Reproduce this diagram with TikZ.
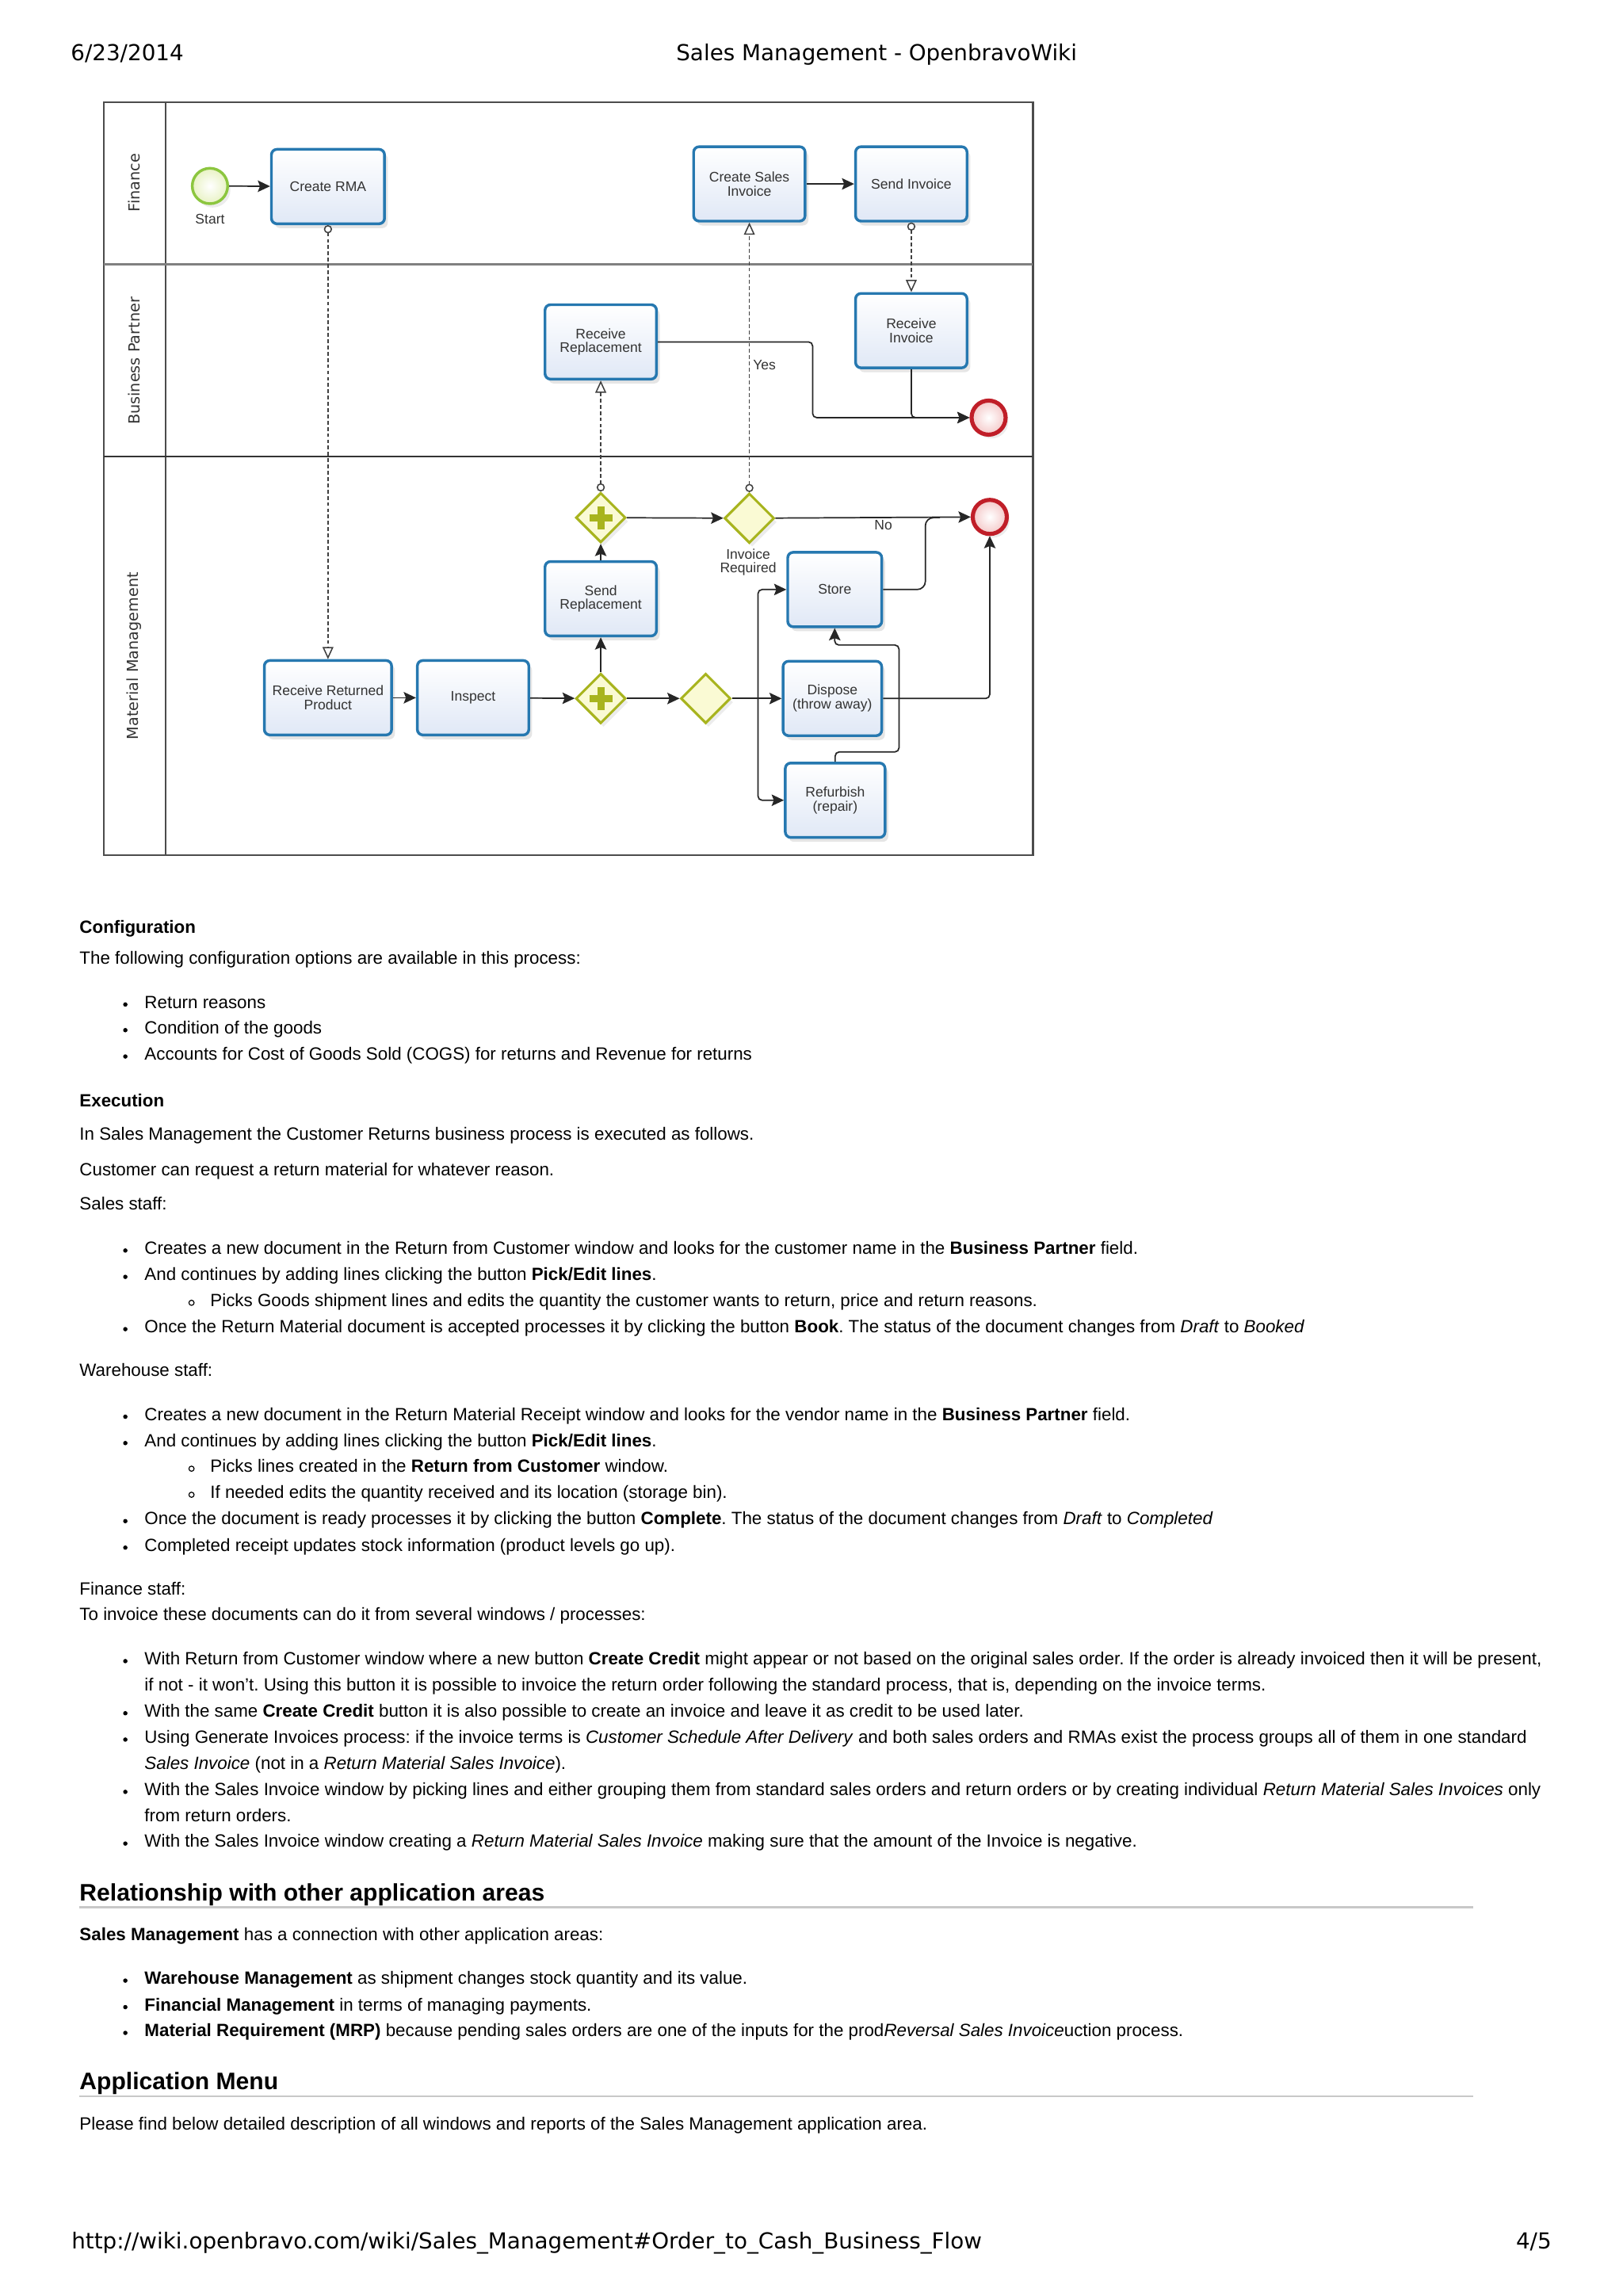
\documentclass[tikz,border=0pt]{standalone}
\usepackage{fontspec}
\setmainfont{Liberation Sans}
\newfontfamily\pagefont{DejaVu Sans}
\usetikzlibrary{shapes.geometric,arrows.meta,shadows,positioning}
\frenchspacing

\definecolor{taskblue}{RGB}{38,120,176}
\definecolor{taskfill}{RGB}{224,232,246}
\definecolor{gateolive}{RGB}{168,180,30}
\definecolor{gatefill}{RGB}{250,250,212}
\definecolor{startgreen}{RGB}{140,198,63}
\definecolor{startfill}{RGB}{232,242,196}
\definecolor{endred}{RGB}{192,30,40}
\definecolor{endfill}{RGB}{244,200,200}
\definecolor{rulegray}{RGB}{200,200,200}

\newcommand{\bodyfont}{\fontsize{6.5}{7.8}\selectfont}
\newcommand{\headfont}{\fontsize{8.75}{10}\selectfont\bfseries}
\newcommand{\taskfont}{\fontsize{5.1}{5.15}\selectfont}
\newcommand{\lanefont}{\pagefont\fontsize{5.6}{6}\selectfont}
\newcommand{\edgefont}{\pagefont\fontsize{8.08}{9}\selectfont}

\begin{document}
\begin{tikzpicture}[
    x=0.5373pt, y=-0.5373pt,
    every node/.style={inner sep=0pt},
    task/.style={rectangle, rounded corners=2pt, draw=taskblue, line width=1pt,
        top color=white, bottom color=taskfill, minimum width=40.9pt, minimum height=27.3pt,
        inner sep=1pt, align=center, font=\taskfont, text=black!80,
        drop shadow={opacity=0.2, shadow xshift=1.2pt, shadow yshift=-1.6pt}},
    gate/.style={diamond, draw=gateolive, line width=0.9pt, fill=gatefill,
        minimum width=18.3pt, minimum height=18.3pt,
        drop shadow={opacity=0.15, shadow xshift=1pt, shadow yshift=-1.4pt}},
    pgate/.style={gate, path picture={
        \draw[gateolive, line width=2.6pt] ([xshift=-4.2pt]path picture bounding box.center) -- ([xshift=4.2pt]path picture bounding box.center);
        \draw[gateolive, line width=2.6pt] ([yshift=-4.2pt]path picture bounding box.center) -- ([yshift=4.2pt]path picture bounding box.center);}},
    startev/.style={circle, draw=startgreen, line width=1pt, inner color=white, outer color=startfill,
        minimum size=13pt, drop shadow={opacity=0.15, shadow xshift=1pt, shadow yshift=-1.4pt}},
    endev/.style={circle, draw=endred, line width=1.5pt, inner color=white, outer color=endfill,
        minimum size=12.5pt, drop shadow={opacity=0.15, shadow xshift=1pt, shadow yshift=-1.4pt}},
    lbl/.style={font=\taskfont, text=black!80, align=center},
    lane/.style={font=\lanefont, text=black!80, rotate=90},
    flow/.style={draw=black!85, line width=0.5pt, rounded corners=1.5pt,
        -{Stealth[length=4.5pt, width=4.2pt, inset=0.8pt]}},
    flowline/.style={draw=black!85, line width=0.5pt, rounded corners=3pt},
    msg/.style={draw=black!75, line width=0.45pt, dash pattern=on 1.4pt off 0.9pt,
        {Circle[open, length=3pt, width=3pt, fill=white]}-{Triangle[open, length=4.5pt, width=4pt, fill=white]}},
    para/.style={anchor=base west, font=\bodyfont},
    head/.style={anchor=base west, font=\headfont},
    bul/.style={circle, fill=black, minimum size=1.6pt},
    subbul/.style={circle, draw=black, line width=0.35pt, minimum size=1.9pt}
]
\useasboundingbox[fill=white] (0,0) rectangle (1108,1568);

% page header and footer
\node[anchor=base west, font=\edgefont] (date) at (48,41.3) {6/23/2014};
\node[anchor=base west, font=\edgefont] (title) at (461.5,41.3) {Sales Management - OpenbravoWiki};
\node[anchor=base west, font=\edgefont] (url) at (48.5,1536) {http://wiki.openbravo.com/wiki/Sales\_Management\#Order\_to\_Cash\_Business\_Flow};
\node[anchor=base east, font=\edgefont] (pageno) at (1060,1536) {4/5};

% pool and lanes
\draw[black!70, line width=0.6pt] (71,70) rectangle (705.5,584);
\draw[black!70, line width=0.6pt] (113.2,70) -- (113.2,584);
\draw[black!50, line width=1.1pt] (71,180.5) -- (705.5,180.5);
\draw[black!80, line width=0.6pt] (71,311.6) -- (705.5,311.6);
\node[lane] (lanefin) at (91.5,124.8) {Finance};
\node[lane] (lanebp) at (91.5,246.5) {Business Partner};
\node[lane] (lanemm) at (91.5,448) {Material Management};

% Finance lane
\node[startev] (start) at (143.4,127) {};
\node[lbl] (startlbl) at (143.4,149.7) {Start};
\node[task, minimum width=41.5pt] (rma) at (224,127.4) {Create RMA};
\node[task] (csi) at (511.8,125.6) {Create Sales\\Invoice};
\node[task] (sinv) at (622.4,125.6) {Send Invoice};

% Business Partner lane
\node[task] (rrep) at (410.3,233.5) {Receive\\Replacement};
\node[task] (rinv) at (622.4,225.8) {Receive\\Invoice};
\node[endev] (endbp) at (675.2,285.2) {};

% Material Management lane
\node[pgate] (pgtop) at (410.3,353.5) {};
\node[gate] (xgtop) at (511.8,353.9) {};
\node[lbl] (invreq) at (511,384) {Invoice\\Required};
\node[endev] (endmm) at (676,353) {};
\node[task] (srep) at (410.3,408.9) {Send\\Replacement};
\node[task, minimum width=46.7pt] (rrp) at (224,476.5) {Receive Returned\\Product};
\node[task] (insp) at (323.1,476.5) {Inspect};
\node[pgate] (pgbot) at (410.3,477) {};
\node[gate] (xgbot) at (482,477) {};
\node[task, minimum width=34.5pt] (store) at (570.1,402.6) {Store};
\node[task, minimum width=36.2pt] (disp) at (568.5,477) {Dispose\\(throw away)};
\node[task, minimum width=36.6pt] (refb) at (570.4,546.5) {Refurbish\\(repair)};
\node[lbl, anchor=west] (yeslbl) at (514,249) {Yes};
\node[lbl] (nolbl) at (603.3,358.5) {No};

% turning points
\coordinate (bpturn) at (555,285.2);
\coordinate (split) at (517.7,477);
\coordinate (storeup) at (632,353.5);
\coordinate (storemerge) at (642,353.5);
\coordinate (rfa) at (614,513.5);
\coordinate (rfb) at (614,440.5);

% sequence flows
\draw[flow] (start) -- (rma);
\draw[flow] (csi) -- (sinv);
\draw[flow] (rrep.east) -| (bpturn) -- (endbp.west);
\draw[flow] (rinv.south) |- (endbp.west);
\draw[flow] (pgtop) -- (xgtop);
\draw[flow] (xgtop) -- (endmm);
\draw[flow] (srep) -- (pgtop);
\draw[flow] (pgbot) -- (srep);
\draw[flow] (rrp) -- (insp);
\draw[flow] (insp) -- (pgbot);
\draw[flow] (pgbot) -- (xgbot);
\draw[flow] (xgbot) -- (disp);
\draw[flow] (split) |- (store.west);
\draw[flow] (split) |- (refb.west);
\draw[flowline] (store.east) -| (storeup) -- (storemerge);
\draw[flow] (disp.east) -| (endmm.south);
\draw[flow] (refb.north) |- (rfa) -- (rfb) -| (store.south);

% message flows
\draw[msg] (rma.south) -- (rrp.north);
\draw[msg] (sinv.south) -- (rinv.north);
\draw[msg] (pgtop.north) -- (rrep.south);
\draw[msg] (xgtop.north) -- (csi.south);

% text below the diagram
\node[para] (cfghead) at (54,637.5) {\textbf{Configuration}};
\node[para] (cfgintro) at (54,658.5) {The following configuration options are available in this process:};
\node[para] (cfg1) at (98.4,688.5) {Return reasons};
\node[para] (cfg2) at (98.4,706) {Condition of the goods};
\node[para] (cfg3) at (98.4,724) {Accounts for Cost of Goods Sold (COGS) for returns and Revenue for returns};
\node[para] (exehead) at (54,756) {\textbf{Execution}};
\node[para] (exe1) at (54,778.6) {In Sales Management the Customer Returns business process is executed as follows.};
\node[para] (exe2) at (54,802.7) {Customer can request a return material for whatever reason.};
\node[para] (sales) at (54,826) {Sales staff:};
\node[para] (sales1) at (98.4,856.5) {Creates a new document in the Return from Customer window and looks for the customer name in the \textbf{Business Partner} field.};
\node[para] (sales2) at (98.4,874.5) {And continues by adding lines clicking the button \textbf{Pick/Edit lines}.};
\node[para] (sales2a) at (143.3,892.2) {Picks Goods shipment lines and edits the quantity the customer wants to return, price and return reasons.};
\node[para] (sales3) at (98.4,910.2) {Once the Return Material document is accepted processes it by clicking the button \textbf{Book}. The status of the document changes from \textit{Draft} to \textit{Booked}};
\node[para] (wh) at (54,940) {Warehouse staff:};
\node[para] (wh1) at (98.4,970) {Creates a new document in the Return Material Receipt window and looks for the vendor name in the \textbf{Business Partner} field.};
\node[para] (wh2) at (98.4,988) {And continues by adding lines clicking the button \textbf{Pick/Edit lines}.};
\node[para] (wh2a) at (143.3,1005.5) {Picks lines created in the \textbf{Return from Customer} window.};
\node[para] (wh2b) at (143.3,1023.3) {If needed edits the quantity received and its location (storage bin).};
\node[para] (wh3) at (98.4,1041.3) {Once the document is ready processes it by clicking the button \textbf{Complete}. The status of the document changes from \textit{Draft} to \textit{Completed}};
\node[para] (wh4) at (98.4,1059.4) {Completed receipt updates stock information (product levels go up).};
\node[para] (fin) at (54,1089.1) {Finance staff:};
\node[para] (finintro) at (54,1106.8) {To invoice these documents can do it from several windows / processes:};
\node[para] (fin1) at (98.4,1136.9) {With Return from Customer window where a new button \textbf{Create Credit} might appear or not based on the original sales order. If the order is already invoiced then it will be present,};
\node[para] (fin1b) at (98.4,1154.5) {if not - it won't. Using this button it is possible to invoice the return order following the standard process, that is, depending on the invoice terms.};
\node[para] (fin2) at (98.4,1172.5) {With the same \textbf{Create Credit} button it is also possible to create an invoice and leave it as credit to be used later.};
\node[para] (fin3) at (98.4,1190.5) {Using Generate Invoices process: if the invoice terms is \textit{Customer Schedule After Delivery} and both sales orders and RMAs exist the process groups all of them in one standard};
\node[para] (fin3b) at (98.4,1208.2) {\textit{Sales Invoice} (not in a \textit{Return Material Sales Invoice}).};
\node[para] (fin4) at (98.4,1226.2) {With the Sales Invoice window by picking lines and either grouping them from standard sales orders and return orders or by creating individual \textit{Return Material Sales Invoices} only};
\node[para] (fin4b) at (98.4,1243.9) {from return orders.};
\node[para] (fin5) at (98.4,1261.5) {With the Sales Invoice window creating a \textit{Return Material Sales Invoice} making sure that the amount of the Invoice is negative.};
\node[head] (relhead) at (54,1297.9) {Relationship with other application areas};
\draw[rulegray, line width=0.7pt] (54,1302.4) -- (1006,1302.4);
\node[para] (relintro) at (54,1325) {\textbf{Sales Management} has a connection with other application areas:};
\node[para] (rel1) at (98.4,1355.1) {\textbf{Warehouse Management} as shipment changes stock quantity and its value.};
\node[para] (rel2) at (98.4,1373.2) {\textbf{Financial Management} in terms of managing payments.};
\node[para] (rel3) at (98.4,1390.8) {\textbf{Material Requirement (MRP)} because pending sales orders are one of the inputs for the prod\textit{Reversal Sales Invoice}uction process.};
\node[head] (menuhead) at (54,1427) {Application Menu};
\draw[rulegray, line width=0.7pt] (54,1431.5) -- (1006,1431.5);
\node[para] (menu1) at (54,1454.5) {Please find below detailed description of all windows and reports of the Sales Management application area.};

% bullets
\foreach \y [count=\i] in {686,703.5,721.5,854,872,907.7,967.5,985.5,1038.8,1056.9,1134.4,1170,1188,1223.7,1259,1352.6,1370.7,1388.3}
    \node[bul] (dot\i) at (85.6,\y) {};
\foreach \y [count=\i] in {889.7,1003,1020.8}
    \node[subbul] (ring\i) at (130.8,\y) {};

\end{tikzpicture}
\end{document}
